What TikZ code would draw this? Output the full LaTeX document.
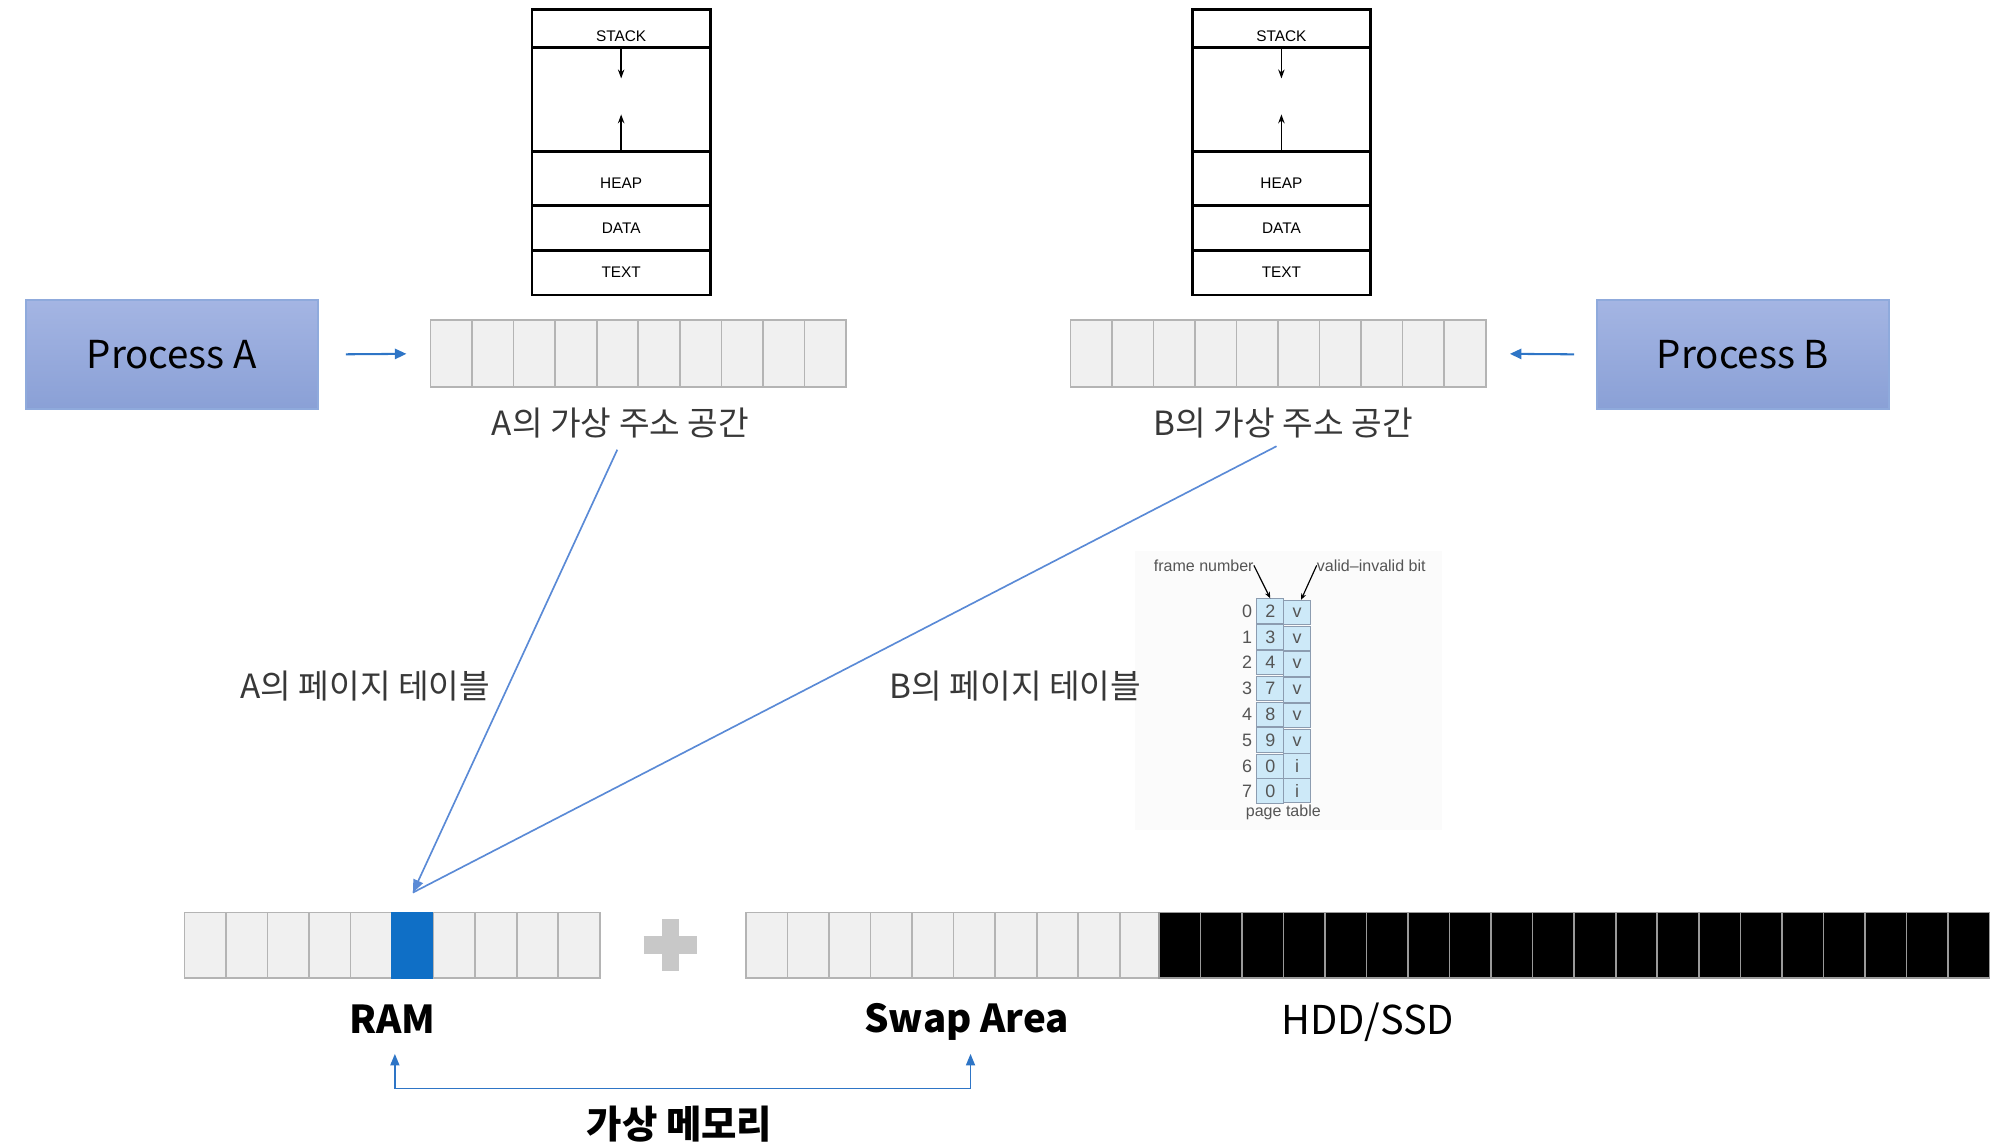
\documentclass[tikz,border=0pt]{standalone}
\usepackage{fontspec}
\setmainfont{Noto Sans CJK KR}
\newfontfamily\smallfont{Liberation Sans}
\usetikzlibrary{matrix,arrows.meta,positioning}
\definecolor{proctop}{HTML}{A4B5E3}
\definecolor{procbot}{HTML}{8AA0D6}
\definecolor{procline}{HTML}{8FAADC}
\definecolor{slotfill}{HTML}{F0F0F0}
\definecolor{slotline}{HTML}{B4B4B4}
\definecolor{ramblue}{HTML}{0F6FC6}
\definecolor{diskline}{HTML}{9A9A9A}
\definecolor{linkblue}{HTML}{5A8AD6}
\definecolor{feedblue}{HTML}{2E75C6}
\definecolor{labelgray}{HTML}{383838}
\definecolor{ptblue}{HTML}{CDE9F8}
\definecolor{ptline}{HTML}{8C9CB0}
\definecolor{ptgray}{HTML}{555555}
\definecolor{plusgray}{HTML}{C8C8C8}
\tikzstyle{proc} = [rectangle, draw=procline, line width=1.5pt, top color=proctop, bottom color=procbot, minimum width=228pt, minimum height=85pt, font=\fontsize{30}{36}\selectfont]
\tikzstyle{slot} = [rectangle, draw=slotline, fill=slotfill, line width=1.3pt, minimum width=32.4pt, minimum height=52pt, inner sep=0pt]
\tikzstyle{inuse} = [fill=ramblue, draw=ramblue]
\tikzstyle{diskslot} = [fill=black, draw=diskline]
\tikzstyle{cellrow} = [matrix of nodes, ampersand replacement=\&, nodes in empty cells, inner sep=0pt, column sep=-1.3pt, row sep=-1.3pt]
\tikzstyle{seg} = [rectangle, draw=black, line width=2pt, minimum width=139pt, inner sep=0pt, font=\smallfont\fontsize{12}{14}\selectfont]
\tikzstyle{stackgrow} = [line width=1.2pt, -{Stealth[length=7pt,width=5pt]}]
\tikzstyle{feed} = [draw=feedblue, line width=1.6pt, -{Triangle[length=9pt,width=8pt]}]
\tikzstyle{maplink} = [draw=linkblue, line width=1.3pt]
\tikzstyle{lbl} = [font=\fontsize{26}{30}\selectfont, text=labelgray]
\tikzstyle{boldlbl} = [font=\bfseries\fontsize{30}{36}\selectfont]
\tikzstyle{ptcell} = [rectangle, draw=ptline, fill=ptblue, line width=0.8pt, minimum width=21pt, minimum height=19pt, inner sep=0pt, font=\smallfont\fontsize{14}{16}\selectfont, text=ptgray]
\tikzstyle{idx} = [draw=none, fill=none, minimum width=16pt]
\tikzstyle{ptlbl} = [font=\smallfont\fontsize{12.5}{14}\selectfont, text=ptgray, inner sep=0pt]

\begin{document}
\begin{tikzpicture}[x=1pt, y=-1pt]
	\useasboundingbox (0,0) rectangle (1560,892);
	% page table picture
	\fill[black!1.5] (885,430) rectangle (1125,647);
	\matrix (ptab) at (964.5,466.5) [cellrow, anchor=north west, nodes={ptcell}, column 1/.style={nodes={idx}}, column sep=-0.8pt, row sep=-0.8pt] {
		0 \& 2 \& v \\
		1 \& 3 \& v \\
		2 \& 4 \& v \\
		3 \& 7 \& v \\
		4 \& 8 \& v \\
		5 \& 9 \& v \\
		6 \& 0 \& i \\
		7 \& 0 \& i \\
	};
	\node[ptlbl, anchor=east] (frameLbl) at (978,441) {frame number};
	\node[ptlbl, anchor=west] (validLbl) at (1027,441) {valid–invalid bit};
	\node[ptlbl] (ptName) at (1001,634) {page table};
	\draw[line width=0.9pt, -{Stealth[length=5pt,width=4pt]}] (frameLbl.east) -- (ptab-1-2.north);
	\draw[line width=0.9pt, -{Stealth[length=5pt,width=4pt]}] (validLbl.west) -- ([xshift=3pt]ptab-1-3.north);

	% stacks
	\matrix (stackA) at (484.5,6) [cellrow, anchor=north, nodes={seg}, row sep=-2pt] {
		|[minimum height=30pt, text height=20pt, text depth=0pt]| STACK \\
		|[minimum height=81pt]| \\
		|[minimum height=42pt, text height=15pt, text depth=0pt]| HEAP \\
		|[minimum height=35pt]| DATA \\
		|[minimum height=35pt]| TEXT \\
	};
	\draw[stackgrow] (stackA-2-1.north) -- ++(0,25);
	\draw[stackgrow] (stackA-2-1.south) -- ++(0,-30);
	\matrix (stackB) at (999.5,6) [cellrow, anchor=north, nodes={seg}, row sep=-2pt] {
		|[minimum height=30pt, text height=20pt, text depth=0pt]| STACK \\
		|[minimum height=81pt]| \\
		|[minimum height=42pt, text height=15pt, text depth=0pt]| HEAP \\
		|[minimum height=35pt]| DATA \\
		|[minimum height=35pt]| TEXT \\
	};
	\draw[stackgrow] (stackB-2-1.north) -- ++(0,25);
	\draw[stackgrow] (stackB-2-1.south) -- ++(0,-30);

	% processes and virtual address spaces
	\node[proc] (procA) at (134,276.5) {Process A};
	\node[proc] (procB) at (1359.5,276.5) {Process B};
	\matrix (spaceA) at (335,249) [cellrow, anchor=north west, nodes={slot}] {
		\& \& \& \& \& \& \& \& \& \\
	};
	\matrix (spaceB) at (834,249) [cellrow, anchor=north west, nodes={slot}] {
		\& \& \& \& \& \& \& \& \& \\
	};
	\draw[feed, shorten <=21pt, shorten >=18pt] (procA.east) -- (spaceA.west);
	\draw[feed, shorten <=17pt, shorten >=18pt] (procB.west) -- (spaceB.east);
	\node[lbl] (vaLblA) at (484,330) {A의 가상 주소 공간};
	\node[lbl] (vaLblB) at (1001,330) {B의 가상 주소 공간};

	% memory
	\matrix (ram) at (143,711) [cellrow, anchor=north west, nodes={slot, minimum height=51pt}] {
		\& \& \& \& \& |[inuse]| \& \& \& \& \\
	};
	\matrix (swap) at (581,711) [cellrow, anchor=north west, nodes={slot, minimum height=51pt}] {
		\& \& \& \& \& \& \& \& \& \\
	};
	\matrix (disk) at (903,711) [cellrow, anchor=north west, nodes={slot, diskslot, minimum height=51pt}] {
		\& \& \& \& \& \& \& \& \& \& \& \& \& \& \& \& \& \& \& \\
	};
	\draw[plusgray, line width=14pt] (502,737) -- (544,737) (523,717) -- (523,757);
	\node[boldlbl] (ramLbl) at (306,795) {RAM};
	\node[boldlbl] (swapLbl) at (754,797) {Swap Area};
	\node[font=\fontsize{31}{36}\selectfont] (diskLbl) at (1067,797) {HDD/SSD};

	% page tables
	\coordinate (hit) at ([yshift=15pt]ram-1-6.north);
	\node[lbl] (ptLblA) at (285,535) {A의 페이지 테이블};
	\node[lbl] (ptLblB) at (792,535) {B의 페이지 테이블};
	\draw[maplink, shorten <=6pt, -{Triangle[length=10pt,width=8pt]}] (vaLblA.south) -- (hit);
	\draw[maplink, shorten <=6pt] (vaLblB.south) -- (hit);

	% virtual memory
	\coordinate (memL) at (308,822);
	\coordinate (memR) at (757,822);
	\draw[maplink, draw=feedblue, {Triangle[length=9pt,width=7pt]}-{Triangle[length=9pt,width=7pt]}] (memL) -- ++(0,27) -| (memR);
	\node[boldlbl] (vmLbl) at (530,877) {가상 메모리};
\end{tikzpicture}
\end{document}
